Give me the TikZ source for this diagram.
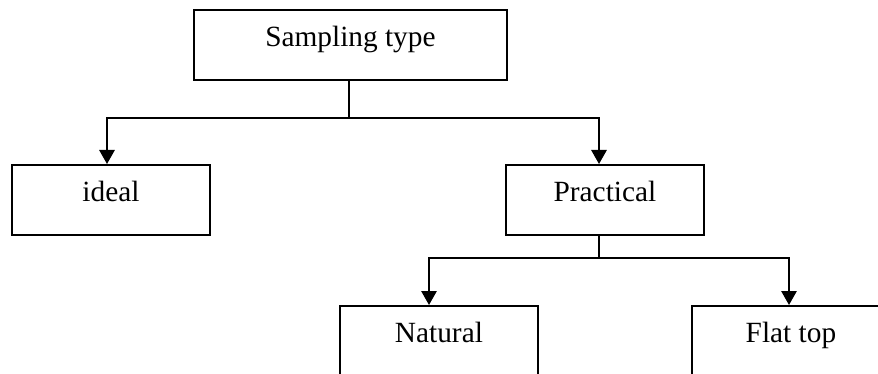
\documentclass[tikz,border=0pt]{standalone}
\usepackage{fontspec}
\setmainfont{Liberation Serif}
\usetikzlibrary{arrows.meta,calc}
\begin{document}
\begin{tikzpicture}[x=0.75pt,y=-0.75pt,
  box/.style={draw,line width=1.4pt,rectangle,inner xsep=0pt,inner ysep=0pt,
    text height=27.75pt,text depth=24.75pt,minimum width=148.5pt,
    font=\fontsize{22}{26}\selectfont,anchor=north west},
  link/.style={line width=1.4pt},
  arr/.style={link,-{Triangle[width=11.5pt,length=10.5pt]}}]
\useasboundingbox (0,0) rectangle (878,374);
\clip (0,0) rectangle (878,374);

% boxes
\node[box,minimum width=234.75pt] (st) at (193,9) {Sampling type};
\node[box] (id) at (11,164) {ideal};
\node[box] (pr) at (505,164) {Practical};
\node[box] (na) at (339,305) {Natural};
\node[box] (ft) at (691,305) {Flat top};

% branch points
\coordinate (j1) at (349,118);
\coordinate (a1) at (107,118);
\coordinate (a2) at (599,118);
\coordinate (j2) at (599,258);
\coordinate (b1) at (429,258);
\coordinate (b2) at (789,258);

% first level
\draw[link] (j1 |- st.south) -- (j1);
\draw[arr] (j1) -| (a1 |- id.north);
\draw[arr] (j1) -| (a2 |- pr.north);

% second level
\draw[link] (j2 |- pr.south) -- (j2);
\draw[arr] (j2) -| (b1 |- na.north);
\draw[arr] (j2) -| (b2 |- ft.north);
\end{tikzpicture}
\end{document}
